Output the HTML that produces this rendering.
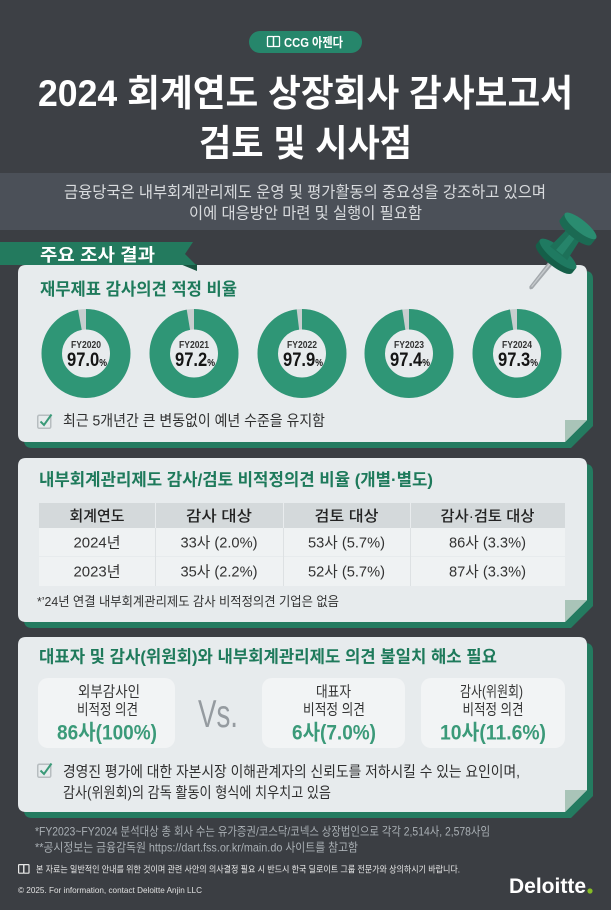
<!DOCTYPE html>
<html>
<head>
<meta charset="utf-8">
<style>
html,body{margin:0;padding:0;background:#3d4045;width:611px;height:910px;overflow:hidden}
svg{display:block}
</style>
</head>
<body>
<svg width="611" height="910" viewBox="0 0 611 910" xmlns="http://www.w3.org/2000/svg" font-family="'Liberation Sans','Noto Sans CJK KR',sans-serif">
  <!-- background -->
  <rect x="0" y="0" width="611" height="910" fill="#3d4045"/>
  <rect x="0" y="230" width="611" height="680" fill="#3b3e43"/>
  <!-- subtitle band -->
  <rect x="0" y="173" width="611" height="57" fill="#4b5058"/>

  <!-- pill -->
  <rect x="249" y="31" width="113" height="22" rx="11" fill="#26866b"/>
  <g fill="none" stroke="#fff" stroke-width="1.3">
    <rect x="267.5" y="36.5" width="6" height="10" rx="0.8"/>
    <rect x="273.5" y="36.5" width="6" height="10" rx="0.8"/>
  </g>
  <text x="284" y="46.8" font-size="13" font-weight="bold" fill="#fff" textLength="59" lengthAdjust="spacingAndGlyphs">CCG 아젠다</text>

  <!-- main title -->
  <text x="38" y="106" font-size="37" font-weight="bold" fill="#fff" textLength="535" lengthAdjust="spacingAndGlyphs">2024 회계연도 상장회사 감사보고서</text>
  <text x="199" y="156" font-size="37" font-weight="bold" fill="#fff" textLength="213" lengthAdjust="spacingAndGlyphs">검토 및 시사점</text>

  <!-- band text -->
  <text x="64" y="197.5" font-size="16" fill="#d9dbde" textLength="482" lengthAdjust="spacingAndGlyphs">금융당국은 내부회계관리제도 운영 및 평가활동의 중요성을 강조하고 있으며</text>
  <text x="189" y="218.5" font-size="16" fill="#d9dbde" textLength="233" lengthAdjust="spacingAndGlyphs">이에 대응방안 마련 및 실행이 필요함</text>

  <!-- card shadows -->
  <g fill="#247b60" transform="translate(6,6)">
    <path d="M26,265 H579 Q587,265 587,273 V420 L565,442 H26 Q18,442 18,434 V273 Q18,265 26,265 Z"/>
    <path d="M26,458 H579 Q587,458 587,466 V600 L565,622 H26 Q18,622 18,614 V466 Q18,458 26,458 Z"/>
    <path d="M26,637 H579 Q587,637 587,645 V790 L565,812 H26 Q18,812 18,804 V645 Q18,637 26,637 Z"/>
  </g>
  <!-- cards -->
  <g fill="#e7ebed">
    <path d="M26,265 H579 Q587,265 587,273 V420 L565,442 H26 Q18,442 18,434 V273 Q18,265 26,265 Z"/>
    <path d="M26,458 H579 Q587,458 587,466 V600 L565,622 H26 Q18,622 18,614 V466 Q18,458 26,458 Z"/>
    <path d="M26,637 H579 Q587,637 587,645 V790 L565,812 H26 Q18,812 18,804 V645 Q18,637 26,637 Z"/>
  </g>
  <!-- folds -->
  <g fill="#a9c4b8">
    <polygon points="565,420 587,420 565,442"/>
    <polygon points="565,600 587,600 565,622"/>
    <polygon points="565,790 587,790 565,812"/>
  </g>

  <!-- ribbon -->
  <polygon points="180,264 197,264 197,271" fill="#17543f"/>
  <polygon points="0,242 193,242 185,254 196,265 0,265" fill="#237a5e"/>
  <text x="40" y="261" font-size="17.5" font-weight="bold" fill="#fff" textLength="115" lengthAdjust="spacingAndGlyphs">주요 조사 결과</text>

  <!-- pin -->
  <g transform="translate(578,229) rotate(38.7)">
    <path d="M-2.6,40 L2.6,40 L2,75 Q0,79 -2,75 Z" fill="#a3a8ac"/>
    <path d="M-1,42 L0.6,42 L0.4,74 L-0.8,74 Z" fill="#c6cacd"/>
    <path d="M-23,32 L23,32 L23,38 A23,7 0 0 1 -23,38 Z" fill="#155f49"/>
    <ellipse cx="0" cy="32" rx="23" ry="7" fill="#1f7a61"/>
    <path d="M-8,4 L8,4 L11,31 L-11,31 Z" fill="#1d7159"/>
    <path d="M-3,4 L3,4 L4,30 L-4,30 Z" fill="#26846a"/>
    <path d="M-20,-4 L20,-4 L20,4 A20,6 0 0 1 -20,4 Z" fill="#1b6a53"/>
    <ellipse cx="0" cy="-4" rx="20" ry="6" fill="#2a8c70"/>
  </g>

  <!-- card 1 -->
  <text x="40" y="295" font-size="17" font-weight="bold" fill="#1e7a5b" textLength="197" lengthAdjust="spacingAndGlyphs">재무제표 감사의견 적정 비율</text>

  <g fill="none" stroke-width="20.5">
    <circle cx="86" cy="353.5" r="34.25" stroke="#c8cecf"/>
    <circle cx="86" cy="353.5" r="34.25" stroke="#2f9676" stroke-dasharray="208.7 300" transform="rotate(-90 86 353.5)"/>
    <circle cx="194" cy="353.5" r="34.25" stroke="#c8cecf"/>
    <circle cx="194" cy="353.5" r="34.25" stroke="#2f9676" stroke-dasharray="209.2 300" transform="rotate(-90 194 353.5)"/>
    <circle cx="302" cy="353.5" r="34.25" stroke="#c8cecf"/>
    <circle cx="302" cy="353.5" r="34.25" stroke="#2f9676" stroke-dasharray="210.7 300" transform="rotate(-90 302 353.5)"/>
    <circle cx="409" cy="353.5" r="34.25" stroke="#c8cecf"/>
    <circle cx="409" cy="353.5" r="34.25" stroke="#2f9676" stroke-dasharray="209.6 300" transform="rotate(-90 409 353.5)"/>
    <circle cx="517" cy="353.5" r="34.25" stroke="#c8cecf"/>
    <circle cx="517" cy="353.5" r="34.25" stroke="#2f9676" stroke-dasharray="209.4 300" transform="rotate(-90 517 353.5)"/>
  </g>
  <g font-size="10" font-weight="bold" fill="#333">
    <text x="71" y="348" textLength="30" lengthAdjust="spacingAndGlyphs">FY2020</text>
    <text x="179" y="348" textLength="30" lengthAdjust="spacingAndGlyphs">FY2021</text>
    <text x="287" y="348" textLength="30" lengthAdjust="spacingAndGlyphs">FY2022</text>
    <text x="394" y="348" textLength="30" lengthAdjust="spacingAndGlyphs">FY2023</text>
    <text x="502" y="348" textLength="30" lengthAdjust="spacingAndGlyphs">FY2024</text>
  </g>
  <g font-weight="bold" fill="#151515">
    <text x="67" y="366" font-size="19" textLength="40" lengthAdjust="spacingAndGlyphs">97.0<tspan font-size="10">%</tspan></text>
    <text x="175" y="366" font-size="19" textLength="40" lengthAdjust="spacingAndGlyphs">97.2<tspan font-size="10">%</tspan></text>
    <text x="283" y="366" font-size="19" textLength="40" lengthAdjust="spacingAndGlyphs">97.9<tspan font-size="10">%</tspan></text>
    <text x="390" y="366" font-size="19" textLength="40" lengthAdjust="spacingAndGlyphs">97.4<tspan font-size="10">%</tspan></text>
    <text x="498" y="366" font-size="19" textLength="40" lengthAdjust="spacingAndGlyphs">97.3<tspan font-size="10">%</tspan></text>
  </g>

  <!-- check icon 1 -->
  <g transform="translate(37,413)">
    <rect x="0.75" y="2.25" width="13" height="13" rx="1.5" fill="none" stroke="#b7bdc0" stroke-width="1.5"/>
    <path d="M3.5,8.5 L7,12 L14.5,1.5" fill="none" stroke="#3a9a78" stroke-width="2"/>
  </g>
  <text x="63" y="425.5" font-size="15" fill="#2e2e2e" textLength="262" lengthAdjust="spacingAndGlyphs">최근 5개년간 큰 변동없이 예년 수준을 유지함</text>

  <!-- card 2 -->
  <text x="39" y="485.5" font-size="17" font-weight="bold" fill="#1e7a5b" textLength="394" lengthAdjust="spacingAndGlyphs">내부회계관리제도 감사/검토 비적정의견 비율 (개별·별도)</text>
  <rect x="39" y="503" width="526" height="25" fill="#d4d9db"/>
  <rect x="39" y="528" width="526" height="28" fill="#eff2f3"/>
  <rect x="39" y="557" width="526" height="29" fill="#eff2f3"/>
  <g stroke="#e9ecee" stroke-width="1">
    <line x1="155.5" y1="503" x2="155.5" y2="528"/>
    <line x1="283.5" y1="503" x2="283.5" y2="528"/>
    <line x1="410.5" y1="503" x2="410.5" y2="528"/>
  </g>
  <g stroke="#dde1e3" stroke-width="1">
    <line x1="155.5" y1="528" x2="155.5" y2="586"/>
    <line x1="283.5" y1="528" x2="283.5" y2="586"/>
    <line x1="410.5" y1="528" x2="410.5" y2="586"/>
  </g>
  <g font-size="15" fill="#222" font-weight="500">
    <text x="69.5" y="521" textLength="55" lengthAdjust="spacingAndGlyphs">회계연도</text>
    <text x="186" y="521" textLength="66" lengthAdjust="spacingAndGlyphs">감사 대상</text>
    <text x="314.5" y="521" textLength="64" lengthAdjust="spacingAndGlyphs">검토 대상</text>
    <text x="440.5" y="521" textLength="94" lengthAdjust="spacingAndGlyphs">감사·검토 대상</text>
  </g>
  <g font-size="15" fill="#333">
    <text x="73.5" y="547.5" textLength="47" lengthAdjust="spacingAndGlyphs">2024년</text>
    <text x="180.5" y="547.5" textLength="77" lengthAdjust="spacingAndGlyphs">33사 (2.0%)</text>
    <text x="308" y="547.5" textLength="77" lengthAdjust="spacingAndGlyphs">53사 (5.7%)</text>
    <text x="449" y="547.5" textLength="77" lengthAdjust="spacingAndGlyphs">86사 (3.3%)</text>
    <text x="73.5" y="576.5" textLength="47" lengthAdjust="spacingAndGlyphs">2023년</text>
    <text x="180.5" y="576.5" textLength="77" lengthAdjust="spacingAndGlyphs">35사 (2.2%)</text>
    <text x="308" y="576.5" textLength="77" lengthAdjust="spacingAndGlyphs">52사 (5.7%)</text>
    <text x="449" y="576.5" textLength="77" lengthAdjust="spacingAndGlyphs">87사 (3.3%)</text>
  </g>
  <text x="37" y="606" font-size="13" fill="#333" textLength="302" lengthAdjust="spacingAndGlyphs">*’24년 연결 내부회계관리제도 감사 비적정의견 기업은 없음</text>

  <!-- card 3 -->
  <text x="39" y="662.5" font-size="17" font-weight="bold" fill="#1e7a5b" textLength="458" lengthAdjust="spacingAndGlyphs">대표자 및 감사(위원회)와 내부회계관리제도 의견 불일치 해소 필요</text>
  <g fill="#f2f4f5">
    <rect x="38" y="678" width="137" height="70" rx="10"/>
    <rect x="262" y="678" width="143" height="70" rx="10"/>
    <rect x="421" y="678" width="144" height="70" rx="10"/>
  </g>
  <g font-size="15" fill="#333">
    <text x="78" y="696.5" textLength="62" lengthAdjust="spacingAndGlyphs">외부감사인</text>
    <text x="77" y="714.5" textLength="61" lengthAdjust="spacingAndGlyphs">비적정 의견</text>
    <text x="316" y="696.5" textLength="35" lengthAdjust="spacingAndGlyphs">대표자</text>
    <text x="303" y="714.5" textLength="62" lengthAdjust="spacingAndGlyphs">비적정 의견</text>
    <text x="460" y="696.5" textLength="63" lengthAdjust="spacingAndGlyphs">감사(위원회)</text>
    <text x="462.5" y="714.5" textLength="61" lengthAdjust="spacingAndGlyphs">비적정 의견</text>
  </g>
  <g font-size="21" font-weight="bold" fill="#3b9a79">
    <text x="57" y="739.5" textLength="100" lengthAdjust="spacingAndGlyphs">86사(100%)</text>
    <text x="292" y="739.5" textLength="84" lengthAdjust="spacingAndGlyphs">6사(7.0%)</text>
    <text x="440" y="739.5" textLength="106" lengthAdjust="spacingAndGlyphs">10사(11.6%)</text>
  </g>
  <text x="198" y="727" font-size="39" fill="#959ba0" textLength="40" lengthAdjust="spacingAndGlyphs">Vs.</text>

  <g transform="translate(37,762)">
    <rect x="0.75" y="2.25" width="13" height="13" rx="1.5" fill="none" stroke="#b7bdc0" stroke-width="1.5"/>
    <path d="M3.5,8.5 L7,12 L14.5,1.5" fill="none" stroke="#3a9a78" stroke-width="2"/>
  </g>
  <text x="63" y="776.5" font-size="15" fill="#2e2e2e" textLength="457" lengthAdjust="spacingAndGlyphs">경영진 평가에 대한 자본시장 이해관계자의 신뢰도를 저하시킬 수 있는 요인이며,</text>
  <text x="63" y="797.5" font-size="15" fill="#2e2e2e" textLength="268" lengthAdjust="spacingAndGlyphs">감사(위원회)의 감독 활동이 형식에 치우치고 있음</text>

  <!-- footnotes -->
  <text x="35" y="835.4" font-size="12" fill="#aab0b5" textLength="455" lengthAdjust="spacingAndGlyphs">*FY2023~FY2024 분석대상 총 회사 수는 유가증권/코스닥/코넥스 상장법인으로 각각 2,514사, 2,578사임</text>
  <text x="35" y="851.4" font-size="12" fill="#aab0b5" textLength="323" lengthAdjust="spacingAndGlyphs">**공시정보는 금융감독원 https://dart.fss.or.kr/main.do 사이트를 참고함</text>

  <!-- footer -->
  <g fill="none" stroke="#e8e8e8" stroke-width="1.2">
    <rect x="18.6" y="864.6" width="5.2" height="8.6" rx="0.6"/>
    <rect x="23.8" y="864.6" width="5.2" height="8.6" rx="0.6"/>
  </g>
  <text x="36" y="872.3" font-size="9" fill="#e8e8e8" textLength="424" lengthAdjust="spacingAndGlyphs">본 자료는 일반적인 안내를 위한 것이며 관련 사안의 의사결정 필요 시 반드시 한국 딜로이트 그룹 전문가와 상의하시기 바랍니다.</text>
  <text x="18" y="893" font-size="8.5" fill="#e0e0e0" textLength="184" lengthAdjust="spacingAndGlyphs">© 2025. For information, contact Deloitte Anjin LLC</text>
  <text x="509" y="893" font-size="21" font-weight="bold" fill="#fff" textLength="77" lengthAdjust="spacingAndGlyphs">Deloitte</text>
  <circle cx="590" cy="891" r="2.6" fill="#86bc25"/>
</svg>
</body>
</html>
